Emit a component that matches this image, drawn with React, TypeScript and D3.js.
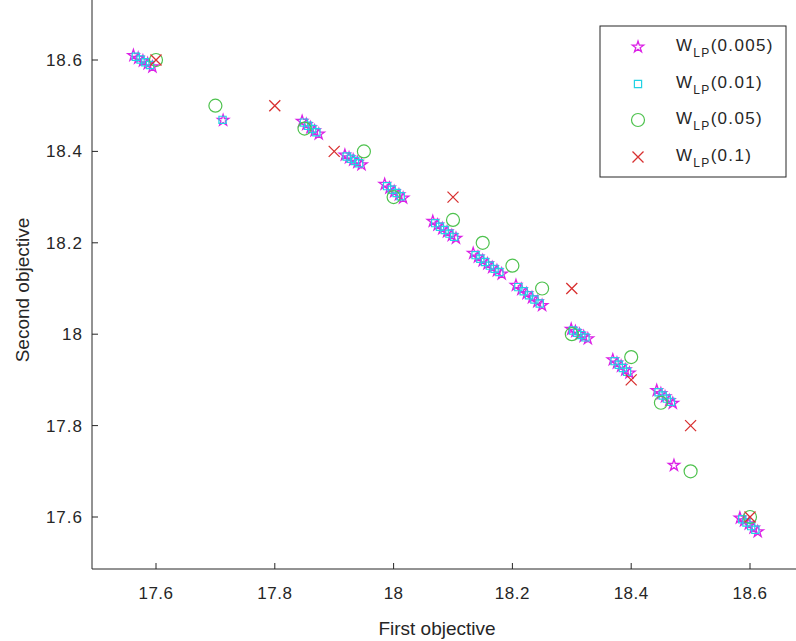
import React from "react";
import * as d3 from "d3";

// ---- data ----
const xTicks = [17.6, 17.8, 18.0, 18.2, 18.4, 18.6];
const yTicks = [17.6, 17.8, 18.0, 18.2, 18.4, 18.6];
const seriesNames = ["0.005", "0.01", "0.05", "0.1"];

// W_LP(0.005) – stars
const starX = [
  17.562, 17.570, 17.578, 17.586, 17.594,
  17.713,
  17.846, 17.853, 17.860, 17.867, 17.874,
  17.918, 17.925, 17.932, 17.939, 17.946,
  17.985, 17.993, 18.001, 18.009, 18.016,
  18.066, 18.074, 18.082, 18.090, 18.098, 18.105,
  18.134, 18.142, 18.150, 18.158, 18.166, 18.174, 18.182,
  18.206, 18.215, 18.224, 18.233, 18.242, 18.250,
  18.299, 18.306, 18.313, 18.320, 18.327,
  18.369, 18.376, 18.383, 18.390, 18.397,
  18.443, 18.450, 18.457, 18.464, 18.470,
  18.472,
  18.583, 18.590, 18.598, 18.606, 18.613,
];
const starY = [
  18.610, 18.604, 18.598, 18.592, 18.585,
  18.468,
  18.466, 18.459, 18.452, 18.445, 18.438,
  18.392, 18.386, 18.381, 18.376, 18.371,
  18.328, 18.320, 18.312, 18.305, 18.298,
  18.247, 18.239, 18.231, 18.224, 18.216, 18.210,
  18.177, 18.169, 18.161, 18.154, 18.146, 18.139, 18.132,
  18.107, 18.098, 18.089, 18.080, 18.071, 18.063,
  18.011, 18.006, 18.000, 17.995, 17.990,
  17.944, 17.937, 17.930, 17.922, 17.915,
  17.877, 17.870, 17.863, 17.855, 17.849,
  17.713,
  17.598, 17.592, 17.585, 17.576, 17.568,
];

// W_LP(0.01) – squares
const squareX = [
  17.566, 17.574, 17.582, 17.590,
  17.712,
  17.849, 17.856, 17.863, 17.870,
  17.921, 17.928, 17.935, 17.942,
  17.989, 17.997, 18.005, 18.012,
  18.070, 18.078, 18.086, 18.094, 18.102,
  18.138, 18.146, 18.154, 18.162, 18.170, 18.178,
  18.210, 18.219, 18.228, 18.237, 18.246,
  18.302, 18.309, 18.316, 18.323,
  18.372, 18.379, 18.386, 18.393,
  18.446, 18.453, 18.460, 18.467,
  18.587, 18.594, 18.602, 18.609,
];
const squareY = [
  18.607, 18.601, 18.595, 18.589,
  18.469,
  18.463, 18.456, 18.449, 18.442,
  18.389, 18.384, 18.379, 18.374,
  18.324, 18.316, 18.309, 18.302,
  18.243, 18.235, 18.228, 18.220, 18.213,
  18.173, 18.165, 18.158, 18.150, 18.143, 18.136,
  18.103, 18.094, 18.085, 18.076, 18.067,
  18.008, 18.003, 17.998, 17.993,
  17.941, 17.933, 17.926, 17.918,
  17.873, 17.866, 17.859, 17.852,
  17.595, 17.588, 17.580, 17.572,
];

// W_LP(0.05) – circles
const circleX = [17.6, 17.7, 17.85, 17.95, 18.0, 18.1, 18.15, 18.2, 18.25, 18.3, 18.4, 18.45, 18.5, 18.6];
const circleY = [18.6, 18.5, 18.45, 18.4, 18.3, 18.25, 18.2, 18.15, 18.1, 18.0, 17.95, 17.85, 17.7, 17.6];

// W_LP(0.1) – crosses
const crossX = [17.6, 17.8, 17.9, 18.1, 18.3, 18.4, 18.5, 18.6];
const crossY = [18.6, 18.5, 18.4, 18.3, 18.1, 17.9, 17.8, 17.6];

// ---- styling ----
const W = 796;
const H = 641;
const axL = 92;
const axB = 569;
const colStar = "#dc22e6";
const colSquare = "#22d2e4";
const colCircle = "#4ec24e";
const colCross = "#d83030";
const font = "'Liberation Sans', Arial, Helvetica, sans-serif";

const x = d3.scaleLinear().domain([17.6, 18.6]).range([156, 750]);
const y = d3.scaleLinear().domain([17.6, 18.6]).range([517, 60]);

const starPath = d3.symbol().type(d3.symbolStar).size(40)() as string;
const squarePath = d3.symbol().type(d3.symbolSquare).size(52)() as string;

function Marker({ kind, cx, cy }: { kind: number; cx: number; cy: number }) {
  if (kind === 0)
    return <path d={starPath} transform={`translate(${cx},${cy})`} fill="none" stroke={colStar} strokeWidth={1.3} />;
  if (kind === 1)
    return <path d={squarePath} transform={`translate(${cx},${cy})`} fill="none" stroke={colSquare} strokeWidth={1.2} />;
  if (kind === 2) return <circle cx={cx} cy={cy} r={6.5} fill="none" stroke={colCircle} strokeWidth={1.2} />;
  const s = 5.5;
  return (
    <path
      d={`M${cx - s},${cy - s}L${cx + s},${cy + s}M${cx - s},${cy + s}L${cx + s},${cy - s}`}
      stroke={colCross}
      strokeWidth={1.3}
    />
  );
}

export default function App() {
  const seriesData = [
    { xs: starX, ys: starY },
    { xs: squareX, ys: squareY },
    { xs: circleX, ys: circleY },
    { xs: crossX, ys: crossY },
  ];
  const legX0 = 600, legY0 = 26, legX1 = 786, legY1 = 177;
  const legRows = [47, 84, 120, 157];
  const fmt = d3.format("~g");
  return (
    <svg width={W} height={H} style={{ position: "absolute", left: 0, top: 0, background: "#fff" }}>
      <rect x={0} y={0} width={W} height={H} fill="#fff" />
      {/* marks */}
      {seriesData.map((s, k) => (
        <g key={k}>
          {s.xs.map((v, i) => (
            <Marker key={i} kind={k} cx={x(v)} cy={y(s.ys[i])} />
          ))}
        </g>
      ))}
      {/* axes */}
      <line x1={axL} y1={0} x2={axL} y2={axB} stroke="#262626" strokeWidth={1} />
      <line x1={axL} y1={axB} x2={W} y2={axB} stroke="#262626" strokeWidth={1} />
      {xTicks.map((t) => (
        <g key={t}>
          <line x1={x(t)} x2={x(t)} y1={axB} y2={axB - 6} stroke="#262626" />
          <text x={x(t)} y={axB + 30} textAnchor="middle" fontFamily={font} fontSize={17} letterSpacing={0.5} fill="#262626">
            {fmt(t)}
          </text>
        </g>
      ))}
      {yTicks.map((t) => (
        <g key={t}>
          <line x1={axL} x2={axL + 6} y1={y(t)} y2={y(t)} stroke="#262626" />
          <text x={axL - 9} y={y(t) + 6} textAnchor="end" fontFamily={font} fontSize={17} letterSpacing={1} fill="#262626">
            {fmt(t)}
          </text>
        </g>
      ))}
      <text x={437} y={635} textAnchor="middle" fontFamily={font} fontSize={19} fill="#262626">
        First objective
      </text>
      <text
        transform={`translate(29,290) rotate(-90)`}
        textAnchor="middle"
        fontFamily={font}
        fontSize={19}
        fill="#262626"
      >
        Second objective
      </text>
      {/* legend */}
      <rect x={legX0} y={legY0} width={legX1 - legX0} height={legY1 - legY0} fill="#fff" stroke="#262626" strokeWidth={1} />
      {seriesNames.map((n, k) => (
        <g key={n}>
          <Marker kind={k} cx={638} cy={legRows[k]} />
          <text x={676} y={legRows[k] + 4} fontFamily={font} fontSize={17} letterSpacing={1.3} fill="#262626">
            W
            <tspan fontSize={12} dy={6}>LP</tspan>
            <tspan dy={-6}>({n})</tspan>
          </text>
        </g>
      ))}
    </svg>
  );
}
